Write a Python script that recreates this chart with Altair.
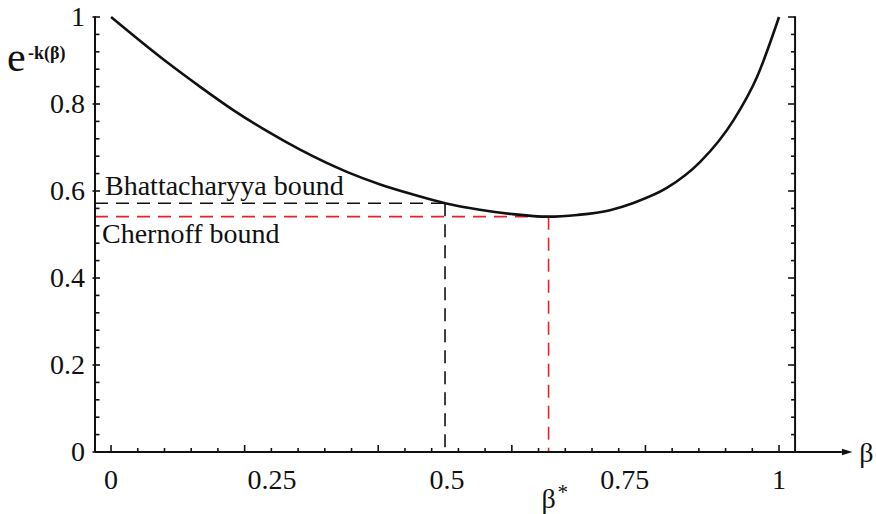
import altair as alt
import pandas as pd

# ---- data ----
beta = [0.0, 0.083, 0.133, 0.183, 0.233, 0.283, 0.353, 0.403, 0.452, 0.500,
        0.552, 0.600, 0.655, 0.698, 0.747, 0.781, 0.832, 0.882, 0.932, 0.967, 1.0]
e_k = [1.0, 0.897, 0.840, 0.786, 0.738, 0.695, 0.644, 0.615, 0.592, 0.572,
       0.557, 0.547, 0.541, 0.545, 0.556, 0.572, 0.607, 0.667, 0.763, 0.862, 1.0]

bhatt_beta, bhatt_val = 0.5, 0.572
chern_beta, chern_val = 0.655, 0.541

# x tick labels and where they are drawn along the beta axis in the reference
x_label_text = ["0", "0.25", "0.5", "0.75", "1"]
x_label_pos = [0.0, 0.241, 0.503, 0.769, 1.0]
y_label_vals = [0, 0.2, 0.4, 0.6, 0.8, 1]
y_label_text = ["0", "0.2", "0.4", "0.6", "0.8", "1"]
minor_ticks = [0.04, 0.08, 0.12, 0.16, 0.24, 0.28, 0.32, 0.36, 0.44, 0.48, 0.52,
               0.56, 0.64, 0.68, 0.72, 0.76, 0.84, 0.88, 0.92, 0.96]
major_ticks = [0, 0.2, 0.4, 0.6, 0.8, 1.0]

x_left, x_right, x_arrow, x_max = -0.024, 1.024, 1.102, 1.1302
y_top = 1.002

# pixels per data unit (plot area 771 x 435)
PX_X = 771 / (x_max - x_left)
PX_Y = 435 / 1.0

FONT = "Liberation Serif"
INK = "#111"
xs = alt.Scale(domain=[x_left, x_max], zero=False, nice=False)
ys = alt.Scale(domain=[0, 1], zero=False, nice=False)


def X(f):
    return alt.X(f, type="quantitative", scale=xs, axis=None)


def Y(f):
    return alt.Y(f, type="quantitative", scale=ys, axis=None)


curve_df = pd.DataFrame({"beta": beta, "v": e_k})
curve = alt.Chart(curve_df).mark_line(color=INK, strokeWidth=2.6, interpolate="monotone").encode(
    x=X("beta"), y=Y("v"))

# axis lines
hlines = pd.DataFrame({"x": [x_left], "x2": [x_arrow - 0.008], "y": [0]})
x_axis = alt.Chart(hlines).mark_rule(color=INK, strokeWidth=2).encode(
    x=X("x"), x2="x2", y=Y("y"))
vlines = pd.DataFrame({"x": [x_left, x_right], "y": [0, 0], "y2": [y_top, y_top]})
v_axes = alt.Chart(vlines).mark_rule(color=INK, strokeWidth=2).encode(
    x=X("x"), y=Y("y"), y2="y2")
arrow = alt.Chart(pd.DataFrame({"x": [x_arrow], "y": [0]})).mark_point(
    shape="M-1,-0.6L1,0L-1,0.6Z", size=110, filled=True, color=INK, opacity=1).encode(
    x=X("x"), y=Y("y"))


# ticks as short rules (lengths in pixels converted to data units)
def xticks(vals, up, down):
    df = pd.DataFrame({"t": vals, "y": [-down / PX_Y] * len(vals), "y2": [up / PX_Y] * len(vals)})
    return alt.Chart(df).mark_rule(color=INK, strokeWidth=1.6).encode(x=X("t"), y=Y("y"), y2="y2")


def vticks(vals, x0, inward, outward, sign):
    df = pd.DataFrame({"t": vals,
                       "x": [x0 - sign * outward / PX_X] * len(vals),
                       "x2": [x0 + sign * inward / PX_X] * len(vals)})
    return alt.Chart(df).mark_rule(color=INK, strokeWidth=1.6).encode(x=X("x"), x2="x2", y=Y("t"))


tick_layers = [
    xticks(minor_ticks, 4, 0), xticks(major_ticks, 7, 0),
    vticks(minor_ticks, x_left, 4.5, 0, 1), vticks(major_ticks, x_left, 5, 2.5, 1),
    vticks(minor_ticks, x_right, 4, 0, -1), vticks(major_ticks, x_right, 7, 0, -1),
]

# dashed bound lines
dash = [13, 8]
bh_h = alt.Chart(pd.DataFrame({"x": [x_left], "x2": [bhatt_beta], "y": [bhatt_val]})).mark_rule(
    color=INK, strokeWidth=1.6, strokeDash=dash).encode(x=X("x"), x2="x2", y=Y("y"))
bh_v = alt.Chart(pd.DataFrame({"x": [bhatt_beta], "y": [bhatt_val], "y2": [0]})).mark_rule(
    color=INK, strokeWidth=1.6, strokeDash=dash).encode(x=X("x"), y=Y("y"), y2="y2")
ch_h = alt.Chart(pd.DataFrame({"x": [x_left], "x2": [chern_beta], "y": [chern_val]})).mark_rule(
    color="#e8202a", strokeWidth=1.6, strokeDash=dash).encode(x=X("x"), x2="x2", y=Y("y"))
ch_v = alt.Chart(pd.DataFrame({"x": [chern_beta], "y": [chern_val], "y2": [0]})).mark_rule(
    color="#e8202a", strokeWidth=1.6, strokeDash=dash).encode(x=X("x"), y=Y("y"), y2="y2")

# tick labels
xlab = alt.Chart(pd.DataFrame({"v": x_label_pos, "t": x_label_text, "y": 0})).mark_text(
    font=FONT, fontSize=28, align="center", baseline="alphabetic", dy=37, color=INK).encode(
    x=X("v"), y=Y("y"), text="t:N")
ylab = alt.Chart(pd.DataFrame({"v": y_label_vals, "t": y_label_text, "x": x_left})).mark_text(
    font=FONT, fontSize=28, align="right", baseline="middle", dx=-10, dy=1, color=INK).encode(
    x=X("x"), y=Y("v"), text="t:N")

# annotations
bh_txt = alt.Chart(pd.DataFrame({"x": [x_left], "y": [bhatt_val], "t": ["Bhattacharyya bound"]})).mark_text(
    font=FONT, fontSize=28, align="left", baseline="alphabetic", dx=10, dy=-8, color=INK).encode(
    x=X("x"), y=Y("y"), text="t:N")
ch_txt = alt.Chart(pd.DataFrame({"x": [x_left], "y": [chern_val], "t": ["Chernoff bound"]})).mark_text(
    font=FONT, fontSize=28, align="left", baseline="alphabetic", dx=7, dy=26, color=INK).encode(
    x=X("x"), y=Y("y"), text="t:N")
bstar = alt.Chart(pd.DataFrame({"x": [chern_beta], "y": [0], "t": ["β"]})).mark_text(
    font=FONT, fontSize=28, align="center", baseline="alphabetic", dy=56, dx=0, color=INK).encode(
    x=X("x"), y=Y("y"), text="t:N")
star = alt.Chart(pd.DataFrame({"x": [chern_beta], "y": [0], "t": ["*"]})).mark_text(
    font=FONT, fontSize=21, align="left", baseline="alphabetic", dy=47, dx=9, color=INK).encode(
    x=X("x"), y=Y("y"), text="t:N")
beta_lbl = alt.Chart(pd.DataFrame({"x": [x_arrow], "y": [0], "t": ["β"]})).mark_text(
    font=FONT, fontSize=28, align="left", baseline="middle", dx=12, dy=2, color=INK).encode(
    x=X("x"), y=Y("y"), text="t:N")
e_lbl = alt.Chart(pd.DataFrame({"x": [x_left], "y": [1.0], "t": ["e"]})).mark_text(
    font=FONT, fontSize=42, align="left", baseline="alphabetic", dx=-88, dy=54, color=INK).encode(
    x=X("x"), y=Y("y"), text="t:N")
sup_lbl = alt.Chart(pd.DataFrame({"x": [x_left], "y": [1.0], "t": ["-k(β)"]})).mark_text(
    font=FONT, fontSize=18, fontWeight="bold", align="left", baseline="alphabetic", dx=-67, dy=42,
    color=INK).encode(x=X("x"), y=Y("y"), text="t:N")

chart = alt.layer(
    bh_h, bh_v, ch_h, ch_v, curve, x_axis, v_axes, arrow, *tick_layers,
    xlab, ylab, bh_txt, ch_txt, bstar, star, beta_lbl, e_lbl, sup_lbl,
).properties(
    width=771, height=435,
    autosize=alt.AutoSizeParams(type="none"),
    padding={"left": 95, "top": 17, "right": 10, "bottom": 62},
    background="white",
).configure_view(stroke=None)

chart.save("out.html", embed_options={"renderer": "svg", "actions": False})
